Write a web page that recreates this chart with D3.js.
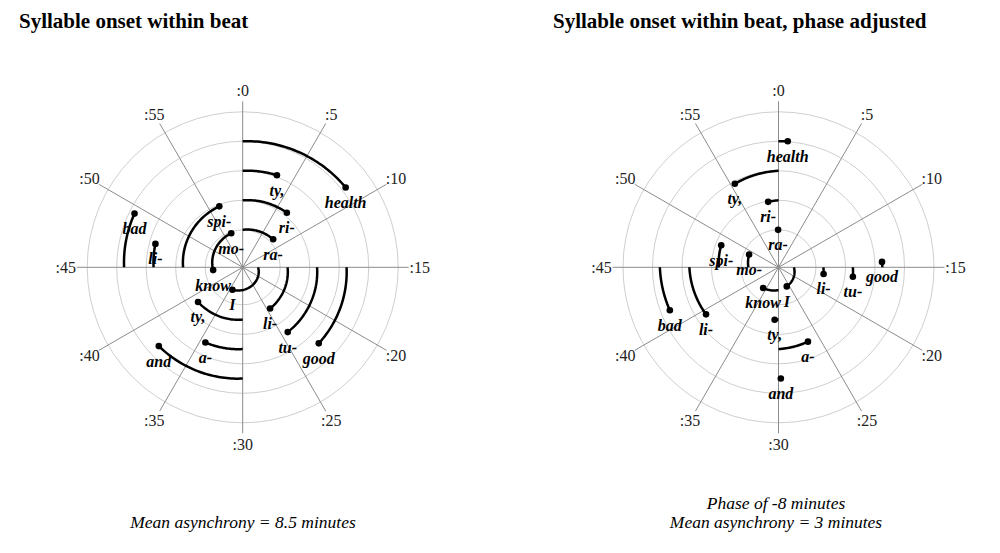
<!DOCTYPE html>
<html lang="en">
<head>
  <meta charset="UTF-8" />
  <title>Syllable onset within beat</title>
  <style>
    body {
      margin: 0;
      background: #fff;
    }

    svg {
      display: block;
      font-family: "Liberation Serif", "DejaVu Serif", serif;
    }

    .ring {
      fill: none;
      stroke: #cfcfcf;
      stroke-width: 1;
    }

    .spoke {
      stroke: #8c8c8c;
      stroke-width: 1;
    }

    .tick {
      font-size: 16px;
      fill: #222;
    }

    .arc {
      fill: none;
      stroke: #000;
      stroke-width: 2.5;
    }

    .syl {
      font-size: 16px;
      font-weight: bold;
      font-style: italic;
    }

    .title {
      font-size: 21px;
      font-weight: bold;
    }

    .note {
      font-size: 17.5px;
      font-style: italic;
    }
  </style>
  <script src="https://d3js.org/d3.v7.min.js"></script>
</head>
<body>
  <svg id="chart" width="1000" height="553"></svg>

  <script>
    // syllables in sung order, times in "minutes" (60 per beat cycle, counted from cycle 0)
    const syllables = ["I", "know", "mo-", "ra-", "li-", "ty,", "spi-", "ri-", "tu-", "a-", "li-", "ty,", "good", "and", "bad", "health"];
    const onsetMinutes = [-25.9, -15.9, -3.1, 7.9, 24.4, 38.7, 56.5, 66.5, 84.2, 94.4, 107.5, 123.4, 142.5, 157.8, 169.4, 188.7];
    // beat each onset is measured against
    const beatRaw = [-45, -15, -15, 0, 15, 30, 45, 60, 75, 90, 105, 120, 135, 150, 165, 180];
    const beatAdjusted = [-45, -30, -15, 0, 15, 30, 45, 60, 75, 90, 105, 120, 135, 150, 165, 180];
    const phaseShift = -8;

    const tickMinutes = d3.range(0, 60, 5);
    const ringMinutes = [0, 60, 120, 180, 240];

    const titles = ["Syllable onset within beat", "Syllable onset within beat, phase adjusted"];
    const notesLeft = ["Mean asynchrony = 8.5 minutes"];
    const notesRight = ["Phase of -8 minutes", "Mean asynchrony = 3 minutes"];

    const svg = d3.select("#chart");

    // spiral: radius grows by one ring per beat cycle
    const r = d3.scaleLinear()
      .domain([-60, 240])
      .range([8, 155.5]);

    const angle = m => m / 60 * 2 * Math.PI;

    const spiral = d3.lineRadial()
      .angle(d => angle(d))
      .radius(d => r(d));

    function drawPanel(cx, cy, onsets, beats) {
      const g = svg.append("g")
        .attr("transform", `translate(${cx},${cy})`);

      g.selectAll("circle.ring")
        .data(ringMinutes)
        .enter()
        .append("circle")
        .attr("class", "ring")
        .attr("r", d => r(d));

      g.selectAll("line.spoke")
        .data(tickMinutes)
        .enter()
        .append("line")
        .attr("class", "spoke")
        .attr("x1", 0)
        .attr("y1", 0)
        .attr("x2", d => d3.pointRadial(angle(d), 166)[0])
        .attr("y2", d => d3.pointRadial(angle(d), 166)[1]);

      g.selectAll("text.tick")
        .data(tickMinutes)
        .enter()
        .append("text")
        .attr("class", "tick")
        .attr("text-anchor", "middle")
        .attr("dominant-baseline", "central")
        .attr("x", d => d3.pointRadial(angle(d), 177)[0])
        .attr("y", d => d3.pointRadial(angle(d), 177)[1])
        .text(d => ":" + d);

      const rows = syllables.map((s, i) => ({
        label: s,
        onset: onsets[i],
        beat: beats[i]
      }));

      g.selectAll("path.arc")
        .data(rows)
        .enter()
        .append("path")
        .attr("class", "arc")
        .attr("d", d => {
          const n = 40;
          const pts = d3.range(n + 1).map(k => d.beat + (d.onset - d.beat) * k / n);
          return spiral(pts);
        });

      g.selectAll("circle.dot")
        .data(rows)
        .enter()
        .append("circle")
        .attr("class", "dot")
        .attr("r", 3.3)
        .attr("cx", d => d3.pointRadial(angle(d.onset), r(d.onset))[0])
        .attr("cy", d => d3.pointRadial(angle(d.onset), r(d.onset))[1]);

      g.selectAll("text.syl")
        .data(rows)
        .enter()
        .append("text")
        .attr("class", "syl")
        .attr("text-anchor", "middle")
        .attr("x", d => d3.pointRadial(angle(d.onset), r(d.onset))[0])
        .attr("y", d => d3.pointRadial(angle(d.onset), r(d.onset))[1] + 20.5)
        .text(d => d.label);
    }

    drawPanel(242.7, 267.3, onsetMinutes, beatRaw);
    drawPanel(778.5, 267.3, onsetMinutes.map(m => m + phaseShift), beatAdjusted);

    svg.append("text")
      .attr("class", "title")
      .attr("x", 19)
      .attr("y", 28)
      .text(titles[0]);

    svg.append("text")
      .attr("class", "title")
      .attr("x", 553)
      .attr("y", 28)
      .text(titles[1]);

    svg.selectAll("text.noteL")
      .data(notesLeft)
      .enter()
      .append("text")
      .attr("class", "note")
      .attr("text-anchor", "middle")
      .attr("x", 243)
      .attr("y", (d, i) => 527.5 - (notesLeft.length - 1 - i) * 18.5)
      .text(d => d);

    svg.selectAll("text.noteR")
      .data(notesRight)
      .enter()
      .append("text")
      .attr("class", "note")
      .attr("text-anchor", "middle")
      .attr("x", 776)
      .attr("y", (d, i) => 527.5 - (notesRight.length - 1 - i) * 18.5)
      .text(d => d);
  </script>
</body>
</html>
